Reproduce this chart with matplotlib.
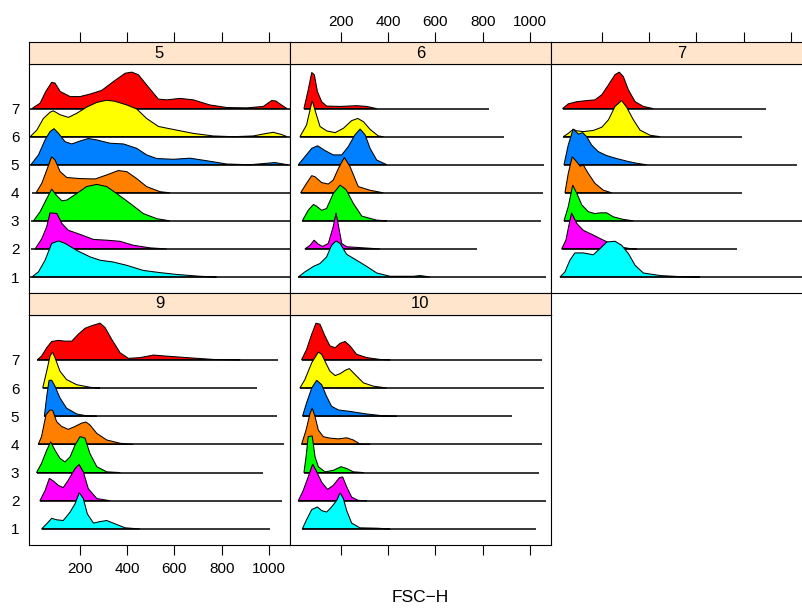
import matplotlib
matplotlib.use("Agg")
import matplotlib.pyplot as plt

plt.rcParams['font.family'] = ['Liberation Sans', 'DejaVu Sans']

# ridge colours, level 1 .. 7
level_colors = ['#00FFFF', '#FF00FF', '#00FF00', '#FF8000', '#0080FF', '#FFFF00', '#FF0000']
levels = [1, 2, 3, 4, 5, 6, 7]
x_ticks = [200, 400, 600, 800, 1000]
x_label = 'FSC\u2212H'

# ---- panel 5 (x points, relative heights, baseline start / end), level 1..7
p5_x = [
    [-4, 24, 52, 80, 109, 137, 186, 243, 285, 341, 398, 468, 539, 609, 708, 778],
    [10, 38, 59, 73, 102, 123, 151, 200, 257, 313, 369, 426, 496, 567],
    [3, 31, 59, 80, 99, 123, 144, 186, 228, 271, 313, 355, 412, 468, 525, 581],
    [14, 38, 59, 80, 94, 116, 144, 200, 264, 313, 362, 398, 440, 482, 539, 581],
    [-8, 24, 52, 73, 90, 109, 137, 165, 200, 235, 271, 327, 384, 440, 482, 525, 595, 666, 736, 821, 919, 990, 1025, 1060, 1081],
    [-11, 17, 45, 73, 87, 116, 151, 186, 228, 271, 313, 348, 398, 440, 482, 532, 609, 680, 764, 849, 933, 990, 1018, 1053, 1077],
    [-4, 31, 55, 80, 94, 116, 158, 200, 243, 292, 341, 391, 419, 447, 482, 532, 567, 623, 680, 750, 821, 905, 976, 1011, 1029, 1053, 1077],
]
p5_h = [
    [0, 0.14, 0.46, 0.92, 0.99, 0.92, 0.73, 0.55, 0.46, 0.41, 0.32, 0.18, 0.12, 0.07, 0.02, 0],
    [0, 0.28, 0.61, 0.99, 0.97, 0.70, 0.51, 0.40, 0.26, 0.24, 0.21, 0.10, 0.03, 0],
    [0, 0.25, 0.61, 0.87, 0.71, 0.55, 0.57, 0.75, 0.94, 1.0, 0.94, 0.75, 0.48, 0.20, 0.06, 0],
    [0, 0.26, 0.62, 0.99, 0.90, 0.58, 0.42, 0.39, 0.38, 0.49, 0.61, 0.58, 0.39, 0.17, 0.03, 0],
    [0, 0.27, 0.68, 0.91, 0.99, 0.86, 0.63, 0.57, 0.65, 0.72, 0.68, 0.59, 0.57, 0.45, 0.27, 0.17, 0.15, 0.18, 0.11, 0.02, 0, 0.04, 0.06, 0.02, 0],
    [0, 0.18, 0.50, 0.67, 0.71, 0.60, 0.53, 0.64, 0.81, 0.94, 1.0, 0.97, 0.87, 0.76, 0.50, 0.28, 0.18, 0.09, 0.02, 0, 0.02, 0.09, 0.12, 0.06, 0],
    [0, 0.15, 0.47, 0.72, 0.70, 0.47, 0.33, 0.33, 0.40, 0.50, 0.74, 0.97, 1.0, 0.93, 0.65, 0.26, 0.24, 0.28, 0.24, 0.10, 0.03, 0.02, 0.06, 0.22, 0.21, 0.10, 0],
]
p5_start = [-11, -8, -8, -4, -11, -11, -11]
p5_end = [1100, 1100, 1100, 1100, 1100, 1100, 1100]

# ---- panel 6
p6_x = [
    [19, 47, 83, 111, 139, 160, 179, 196, 224, 266, 309, 351, 408, 507, 535, 577],
    [47, 69, 86, 104, 122, 146, 167, 179, 190, 203, 224, 295, 365],
    [36, 61, 83, 97, 118, 139, 167, 196, 221, 252, 288, 351, 394],
    [29, 54, 76, 90, 118, 146, 167, 189, 214, 238, 273, 323, 379],
    [19, 47, 76, 101, 132, 167, 203, 231, 259, 281, 302, 323, 351, 394],
    [26, 54, 78, 94, 111, 139, 175, 210, 245, 271, 295, 323, 358, 379],
    [43, 61, 76, 87, 100, 118, 139, 196, 266, 309, 351],
]
p6_h = [
    [0, 0.14, 0.29, 0.37, 0.55, 0.87, 0.99, 0.92, 0.62, 0.46, 0.29, 0.11, 0.02, 0.02, 0.04, 0],
    [0, 0.10, 0.24, 0.13, 0.07, 0.15, 0.61, 0.99, 0.61, 0.15, 0.06, 0.03, 0],
    [0, 0.29, 0.45, 0.40, 0.29, 0.34, 0.75, 0.98, 0.86, 0.48, 0.13, 0.02, 0],
    [0, 0.26, 0.47, 0.44, 0.28, 0.24, 0.35, 0.67, 0.97, 0.72, 0.17, 0.07, 0],
    [0, 0.22, 0.45, 0.52, 0.39, 0.27, 0.27, 0.50, 0.82, 0.98, 0.82, 0.45, 0.13, 0],
    [0, 0.32, 0.99, 0.64, 0.28, 0.16, 0.11, 0.23, 0.44, 0.50, 0.41, 0.20, 0.02, 0],
    [0, 0.51, 0.99, 0.93, 0.47, 0.19, 0.07, 0.06, 0.08, 0.06, 0],
]
p6_start = [19, 47, 36, 29, 19, 26, 43]
p6_end = [1068, 775, 1047, 1055, 1058, 892, 825]

# ---- panel 7
p7_x = [
    [22, 43, 64, 85, 121, 163, 192, 220, 255, 283, 312, 340, 375, 446, 530, 615],
    [29, 47, 57, 71, 93, 121, 163, 206, 262, 318, 347],
    [39, 57, 76, 93, 114, 142, 170, 192, 220, 248, 290, 333],
    [43, 57, 74, 93, 107, 121, 142, 170, 206, 241],
    [39, 57, 78, 100, 118, 135, 156, 184, 220, 262, 304, 347, 389],
    [36, 57, 78, 93, 121, 163, 199, 227, 255, 283, 304, 333, 361, 403, 446],
    [33, 57, 93, 135, 170, 199, 227, 255, 273, 290, 312, 340, 375, 417],
]
p7_h = [
    [0, 0.14, 0.46, 0.66, 0.66, 0.61, 0.78, 0.96, 0.98, 0.87, 0.64, 0.32, 0.11, 0.04, 0.01, 0],
    [0, 0.24, 0.56, 0.99, 0.70, 0.51, 0.38, 0.24, 0.07, 0.01, 0],
    [0, 0.39, 0.98, 0.76, 0.44, 0.25, 0.20, 0.22, 0.22, 0.11, 0.04, 0],
    [0, 0.53, 0.99, 0.85, 0.73, 0.76, 0.53, 0.26, 0.07, 0],
    [0, 0.54, 0.98, 0.84, 0.88, 0.77, 0.54, 0.36, 0.25, 0.17, 0.10, 0.04, 0],
    [0, 0.09, 0.20, 0.16, 0.14, 0.17, 0.26, 0.46, 0.83, 0.99, 0.81, 0.46, 0.18, 0.04, 0],
    [0, 0.13, 0.19, 0.22, 0.24, 0.38, 0.65, 0.93, 1.0, 0.88, 0.51, 0.19, 0.06, 0],
]
p7_start = [22, 29, 39, 43, 39, 36, 33]
p7_end = [1100, 771, 1046, 792, 1025, 792, 894]

# ---- panel 9
p9_x = [
    [37, 59, 80, 101, 129, 158, 179, 197, 214, 231, 257, 285, 313, 348, 391, 454],
    [30, 52, 70, 87, 108, 129, 150, 179, 196, 214, 235, 271, 327],
    [16, 37, 59, 76, 94, 115, 136, 158, 179, 200, 221, 242, 271, 313, 370],
    [23, 37, 56, 73, 84, 101, 122, 150, 179, 207, 225, 242, 271, 313, 370, 426],
    [49, 59, 69, 80, 94, 115, 143, 186, 228, 271],
    [42, 59, 73, 83, 94, 115, 143, 186, 242, 285],
    [19, 37, 59, 80, 108, 136, 165, 193, 221, 249, 285, 306, 334, 370, 405, 454, 511, 567, 652, 765, 878],
]
p9_h = [
    [0, 0.14, 0.29, 0.25, 0.23, 0.46, 0.69, 0.99, 0.83, 0.41, 0.16, 0.20, 0.23, 0.14, 0.03, 0],
    [0, 0.28, 0.61, 0.54, 0.42, 0.36, 0.56, 0.88, 0.99, 0.79, 0.33, 0.06, 0],
    [0, 0.25, 0.61, 0.84, 0.61, 0.39, 0.29, 0.43, 0.75, 0.98, 0.94, 0.52, 0.16, 0.02, 0],
    [0, 0.21, 0.81, 0.94, 0.93, 0.62, 0.49, 0.41, 0.49, 0.58, 0.61, 0.53, 0.30, 0.12, 0.03, 0],
    [0, 0.54, 0.98, 0.98, 0.82, 0.50, 0.22, 0.06, 0.01, 0],
    [0, 0.46, 0.87, 0.98, 0.83, 0.46, 0.23, 0.09, 0.02, 0],
    [0, 0.10, 0.33, 0.50, 0.53, 0.51, 0.51, 0.70, 0.86, 0.93, 1.0, 0.88, 0.56, 0.19, 0.04, 0.06, 0.13, 0.10, 0.06, 0.01, 0],
]
p9_start = [37, 30, 16, 23, 49, 42, 19]
p9_end = [1005, 1055, 973, 1062, 1034, 949, 1038]

# ---- panel 10
p10_x = [
    [36, 54, 76, 100, 118, 139, 160, 182, 196, 210, 224, 245, 280, 351, 408],
    [19, 40, 61, 80, 97, 118, 143, 167, 193, 207, 224, 245, 273, 309],
    [43, 52, 61, 78, 90, 104, 132, 167, 200, 224, 252, 295],
    [33, 52, 69, 78, 90, 104, 125, 153, 189, 224, 252, 280, 323],
    [37, 54, 76, 97, 118, 139, 160, 189, 238, 309, 379, 436],
    [26, 47, 76, 104, 118, 139, 153, 175, 196, 217, 235, 259, 295, 337, 394],
    [33, 54, 76, 94, 111, 132, 153, 175, 196, 217, 238, 266, 309, 365, 408],
]
p10_h = [
    [0, 0.25, 0.53, 0.60, 0.50, 0.46, 0.60, 0.78, 0.99, 0.83, 0.50, 0.16, 0.03, 0.02, 0],
    [0, 0.28, 0.65, 1.0, 0.79, 0.51, 0.31, 0.42, 0.63, 0.65, 0.38, 0.10, 0.01, 0],
    [0, 0.43, 0.98, 1.0, 0.43, 0.16, 0.02, 0.06, 0.16, 0.11, 0.02, 0],
    [0, 0.39, 0.85, 0.99, 0.76, 0.39, 0.21, 0.17, 0.15, 0.18, 0.12, 0.01, 0],
    [0, 0.36, 0.77, 0.98, 0.86, 0.54, 0.27, 0.17, 0.13, 0.06, 0.01, 0],
    [0, 0.23, 0.69, 0.98, 0.92, 0.64, 0.46, 0.34, 0.39, 0.48, 0.53, 0.37, 0.14, 0.05, 0],
    [0, 0.28, 0.70, 1.0, 0.97, 0.65, 0.38, 0.33, 0.45, 0.50, 0.38, 0.15, 0.06, 0.01, 0],
]
p10_start = [36, 19, 43, 33, 37, 26, 33]
p10_end = [1025, 1068, 1039, 1051, 923, 1058, 1053]

panel_names = ['5', '6', '7', '9', '10']
panel_data = [
    (p5_x, p5_h, p5_start, p5_end),
    (p6_x, p6_h, p6_start, p6_end),
    (p7_x, p7_h, p7_start, p7_end),
    (p9_x, p9_h, p9_start, p9_end),
    (p10_x, p10_h, p10_start, p10_end),
]

W, H = 803, 610
fig = plt.figure(figsize=(W / 100, H / 100), dpi=100)

XLIM = (-16, 1089)
YLIM = (0.43, 8.59)
RIDGE = 1.3
col_left = [29, 290, 551]
col_w = 261
row_panel = [(64, 293), (315, 545)]
strip_h = 22


def px_rect(x0, y0, x1, y1):
    return [x0 / W, 1 - y1 / H, (x1 - x0) / W, (y1 - y0) / H]


pos = [(0, 0), (0, 1), (0, 2), (1, 0), (1, 1)]
for i, name in enumerate(panel_names):
    r, c = pos[i]
    xs_all, hs_all, starts, ends = panel_data[i]
    top, bot = row_panel[r]
    left = col_left[c]

    ax = fig.add_axes(px_rect(left, top, left + col_w, bot))
    ax.set_xlim(XLIM)
    ax.set_ylim(YLIM)
    for k in range(7):
        base = levels[k]
        z = 20 - 2 * base
        yy = [base + RIDGE * h for h in hs_all[k]]
        ax.fill(xs_all[k], yy, facecolor=level_colors[k], edgecolor='black',
                lw=0.75, zorder=z)
        ax.plot([starts[k], ends[k]], [base, base], color='black', lw=1.1,
                zorder=z + 0.5, solid_capstyle='butt')
    for s in ax.spines.values():
        s.set_linewidth(0.8)
    ax.set_xticks(x_ticks)
    if r == 1:
        ax.tick_params(axis='x', direction='out', length=7, width=0.8, pad=5,
                       labelsize=11, labelbottom=(c == 0))
    else:
        ax.tick_params(axis='x', length=0, labelbottom=False)
    ax.set_yticks(levels)
    ax.tick_params(axis='y', length=0, pad=7, labelsize=11, labelleft=(c == 0))

    # strip
    sx = fig.add_axes(px_rect(left, top - strip_h, left + col_w, top))
    sx.set_facecolor('#FFE5CC')
    sx.set_xlim(XLIM)
    sx.set_ylim(0, 1)
    sx.set_yticks([])
    sx.text(0.5, 0.5, name, transform=sx.transAxes, ha='center', va='center',
            fontsize=12)
    for s in sx.spines.values():
        s.set_linewidth(0.8)
    sx.set_xticks(x_ticks)
    if r == 0:
        sx.xaxis.tick_top()
        sx.tick_params(axis='x', direction='out', length=7, width=0.8, pad=2,
                       labelsize=11, labeltop=(c == 1), labelbottom=False)
    else:
        sx.tick_params(axis='x', length=0, labelbottom=False)

fig.text(420 / W, 1 - 597 / H, x_label, ha='center', va='center', fontsize=12.5)

fig.savefig('out.png', dpi=100)
